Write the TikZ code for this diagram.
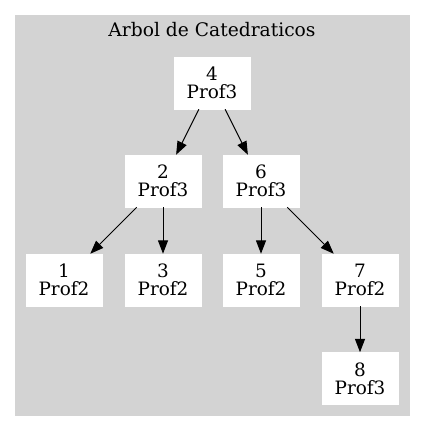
\documentclass[tikz,border=0pt]{standalone}
\usepackage{fontspec}
\setmainfont{DejaVu Serif}
\usetikzlibrary{arrows.meta}
\definecolor{fondo}{HTML}{D3D3D3}
\tikzset{
    nodo/.style={fill=white,draw=white,minimum width=57pt,minimum height=39pt,
        inner sep=0pt,align=center,font=\fontsize{13.8}{13.5}\selectfont},
    arista/.style={-{Triangle[length=10pt,width=7.5pt]},line width=0.75pt}
}
\begin{document}
\begin{tikzpicture}[x=0.75pt,y=-0.75pt]
                \useasboundingbox(0,0)rectangle(424,431);
                \draw[fill=fondo,draw=fondo](15,15)rectangle(409,415);
                \node[font=\fontsize{14}{14}\selectfont](titulo)at(212,30){Arbol de Catedraticos};

                \node[nodo](4)at(212,83){4\\Prof3};
                \node[nodo](2)at(163,181){2\\Prof3};
                \node[nodo](6)at(261,181){6\\Prof3};
                \node[nodo](1)at(64,280){1\\Prof2};
                \node[nodo](3)at(163,280){3\\Prof2};
                \node[nodo](5)at(261,280){5\\Prof2};
                \node[nodo](7)at(360,280){7\\Prof2};
                \node[nodo](8)at(360,378.5){8\\Prof3};

                \draw[arista](4)--(2);
                \draw[arista](4)--(6);
                \draw[arista](2)--(1);
                \draw[arista](2)--(3);
                \draw[arista](6)--(5);
                \draw[arista](6)--(7);
                \draw[arista](7)--(8);
            \end{tikzpicture}
\end{document}
